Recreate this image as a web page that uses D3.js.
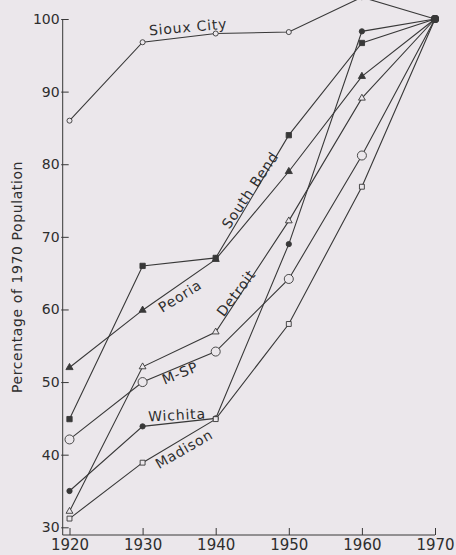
<!DOCTYPE html>
<html>
<head>
<meta charset="utf-8">
<script src="https://cdn.jsdelivr.net/npm/d3@7"></script>
<style>
  html, body { margin: 0; padding: 0; background: #ebe7eb; }
  svg { display: block; }
  text { font-family: "DejaVu Sans", sans-serif; fill: #2e2e2e; }
</style>
</head>
<body>
<figure id="chart" style="margin:0"></figure>
<script>
// decades on the x axis
const years = [1920, 1930, 1940, 1950, 1960, 1970];
const yTicks = [30, 40, 50, 60, 70, 80, 90, 100];

// percentage of 1970 population
const siouxCity = [86.0, 96.8, 98.0, 98.2, 103.0, 100];
const southBend = [44.9, 66.0, 67.1, 84.0, 96.7, 100];
const peoria    = [52.0, 59.9, 66.9, 79.0, 92.1, 100];
const detroit   = [32.2, 52.1, 56.9, 72.2, 89.1, 100];
const mSP       = [42.1, 50.0, 54.2, 64.2, 81.2, 100];
const wichita   = [35.0, 43.9, 45.0, 69.0, 98.3, 100];
const madison   = [31.2, 38.9, 44.9, 58.0, 76.9, 100];

const cityNames = ["Sioux City", "South Bend", "Peoria", "Detroit", "M-SP", "Wichita", "Madison"];
const cityValues = [siouxCity, southBend, peoria, detroit, mSP, wichita, madison];

// marker style per city
const markerStyle = {
  "Sioux City": {shape: d3.symbolCircle, size: 20, filled: false},
  "South Bend": {shape: d3.symbolSquare, size: 28, filled: true},
  "Peoria":     {shape: d3.symbolTriangle, size: 22, filled: true},
  "Detroit":    {shape: d3.symbolTriangle, size: 20, filled: false},
  "M-SP":       {shape: d3.symbolCircle, size: 64, filled: false},
  "Wichita":    {shape: d3.symbolCircle, size: 22, filled: true},
  "Madison":    {shape: d3.symbolSquare, size: 24, filled: false}
};

// label placement (centre + rotation)
const labelPos = {
  "Sioux City": {x: 188, y: 27, rot: -5},
  "South Bend": {x: 250, y: 190, rot: -56},
  "Peoria":     {x: 180, y: 296, rot: -32},
  "Detroit":    {x: 236, y: 293, rot: -53},
  "M-SP":       {x: 180, y: 373, rot: -22},
  "Wichita":    {x: 177, y: 415, rot: -3},
  "Madison":    {x: 184, y: 449, rot: -30}
};

const width = 456, height = 555;
const ink = "#383838", bg = "#ebe7eb";
const axisX = 62.7, axisY = 535;

const svg = d3.select("figure#chart")
  .append("svg")
  .attr("width", width)
  .attr("height", height);

svg.append("rect").attr("width", width).attr("height", height).attr("fill", bg);

const x = d3.scaleLinear().domain([1920, 1970]).range([69.5, 435]);
const y = d3.scaleLinear().domain([30, 100]).range([527.3, 19]);

// y axis
const gy = svg.append("g")
  .attr("transform", "translate(" + axisX + ",0)")
  .call(d3.axisLeft(y).tickValues(yTicks).tickSizeInner(-6).tickSizeOuter(0).tickPadding(3));
gy.select(".domain").remove();
gy.selectAll(".tick line").attr("stroke", ink).attr("x1", -1.5);
gy.selectAll(".tick text").attr("font-size", 14).attr("font-family", "DejaVu Sans").attr("fill", "#2e2e2e");

// x axis
const gx = svg.append("g")
  .attr("transform", "translate(0," + axisY + ")")
  .call(d3.axisBottom(x).tickValues(years).tickFormat(d3.format("d")).tickSizeInner(-7).tickSizeOuter(0).tickPadding(4.5));
gx.select(".domain").remove();
gx.selectAll(".tick line").attr("stroke", ink);
gx.selectAll(".tick text").attr("font-size", 15).attr("font-family", "DejaVu Sans").attr("fill", "#2e2e2e");

// axis lines
svg.append("line")
  .attr("x1", axisX).attr("x2", axisX)
  .attr("y1", y(100)).attr("y2", axisY)
  .attr("stroke", ink).attr("stroke-width", 1);
svg.append("line")
  .attr("x1", axisX).attr("x2", x(1970))
  .attr("y1", axisY).attr("y2", axisY)
  .attr("stroke", ink).attr("stroke-width", 1);

// y axis title
svg.append("text")
  .attr("transform", "translate(17,277) rotate(-90)")
  .attr("text-anchor", "middle")
  .attr("dominant-baseline", "central")
  .attr("font-size", 14)
  .attr("letter-spacing", 0.6)
  .text("Percentage of 1970 Population");

const line = d3.line()
  .x(d => x(d.year))
  .y(d => y(d.value));

cityNames.forEach((name, i) => {
  const pts = years.map((yr, j) => ({year: yr, value: cityValues[i][j]}));
  const st = markerStyle[name];

  svg.append("path")
    .datum(pts)
    .attr("d", line)
    .attr("fill", "none")
    .attr("stroke", ink)
    .attr("stroke-width", 1.1);

  svg.selectAll(null)
    .data(pts)
    .enter()
    .append("path")
    .attr("transform", d => "translate(" + x(d.year) + "," + y(d.value) + ")")
    .attr("d", d => d3.symbol().type(d.year === 1970 ? d3.symbolCircle : st.shape)
      .size(d.year === 1970 ? 40 : st.size)())
    .attr("fill", d => (st.filled || d.year === 1970) ? ink : bg)
    .attr("stroke", ink)
    .attr("stroke-width", 0.9);
});

// city labels
cityNames.forEach(name => {
  const p = labelPos[name];
  svg.append("text")
    .attr("transform", "translate(" + p.x + "," + p.y + ") rotate(" + p.rot + ")")
    .attr("text-anchor", "middle")
    .attr("dominant-baseline", "central")
    .attr("font-size", 14)
    .attr("letter-spacing", 0.8)
    .text(name);
});
</script>
</body>
</html>
